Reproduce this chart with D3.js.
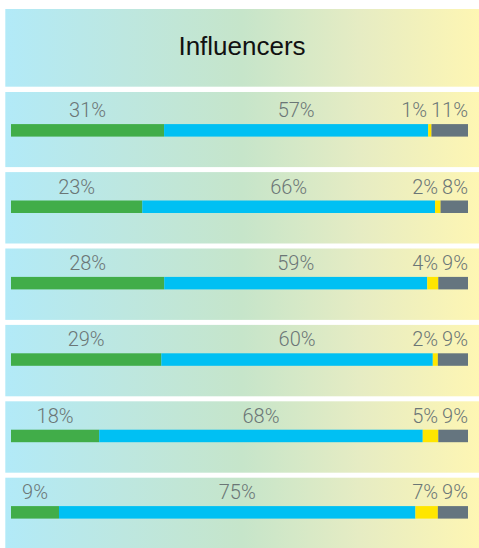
<!DOCTYPE html>
<html>
<head>
<meta charset="utf-8">
<script src="https://cdn.jsdelivr.net/npm/d3@7"></script>
<style>
  body { margin: 0; background: #fff; }
  svg { display: block; }
</style>
</head>
<body>
<div id="chart"></div>
<script>
const title = "Influencers";
const series = ["green", "blue", "yellow", "gray"];
const colors = ["#41ad49", "#00c0f3", "#ffe600", "#65757f"];

// printed percentages, one entry per row
const labelGreen = [31, 23, 28, 29, 18, 9];
const labelBlue = [57, 66, 59, 60, 68, 75];
const labelYellow = [1, 2, 4, 2, 5, 7];
const labelGray = [11, 8, 9, 9, 9, 9];

// bar lengths as drawn (they don't follow the labels exactly)
const barGreen = [33.5, 28.7, 33.5, 32.9, 19.3, 10.5];
const barBlue = [57.8, 64.0, 57.5, 59.4, 70.8, 78.0];
const barYellow = [0.7, 1.2, 2.4, 1.1, 3.4, 4.9];
const barGray = [8.0, 6.0, 6.5, 6.6, 6.5, 6.6];

const width = 479, height = 548;
const rows = d3.range(labelGreen.length);

const table = rows.map(i => ({
  green: barGreen[i], blue: barBlue[i], yellow: barYellow[i], gray: barGray[i],
  labels: [labelGreen[i], labelBlue[i], labelYellow[i], labelGray[i]]
}));

const svg = d3.select("#chart").append("svg")
  .attr("width", width)
  .attr("height", height);

const grad = svg.append("defs").append("linearGradient")
  .attr("id", "bg")
  .attr("gradientUnits", "userSpaceOnUse")
  .attr("x1", 5).attr("x2", width).attr("y1", 0).attr("y2", 0);
grad.selectAll("stop")
  .data([[0, "#b2eaf8"], [0.25, "#bde7e0"], [0.5, "#c6e5ca"], [0.75, "#e6ecc3"], [1, "#fef6b3"]])
  .join("stop")
  .attr("offset", d => d[0])
  .attr("stop-color", d => d[1]);

const x = d3.scaleLinear().domain([0, 1]).range([11, 468]);
const y = d3.scaleBand().domain(rows).range([95.7, 95.7 + rows.length * 76.4]);
const gap = 5;
const barOffset = 28.4, barHeight = 12.5;

// title panel
svg.append("rect")
  .attr("x", 5.3).attr("y", 9)
  .attr("width", width - 5.3).attr("height", 77.7)
  .attr("fill", "url(#bg)");
svg.append("text")
  .attr("x", 242).attr("y", 55)
  .attr("text-anchor", "middle")
  .attr("font-family", "'Liberation Sans', Arial, sans-serif")
  .attr("font-size", 26)
  .attr("fill", "#111")
  .text(title);

// row panels
svg.append("g").selectAll("rect")
  .data(rows)
  .join("rect")
  .attr("x", 5.3)
  .attr("y", i => i === 0 ? 92 : y(i))
  .attr("width", width - 5.3)
  .attr("height", i => i === 0 ? y(i) + y.bandwidth() - gap - 92 : y.bandwidth() - gap)
  .attr("fill", "url(#bg)");

const stacked = d3.stack().keys(series).offset(d3.stackOffsetExpand)(table);

svg.append("g").selectAll("g")
  .data(stacked)
  .join("g")
  .attr("fill", (d, k) => colors[k])
  .selectAll("rect")
  .data(d => d)
  .join("rect")
  .attr("x", d => x(d[0]))
  .attr("y", (d, i) => y(i) + barOffset)
  .attr("width", d => x(d[1]) - x(d[0]))
  .attr("height", barHeight);

// labels
const labelFont = "Roboto, Lato, sans-serif";
rows.forEach(i => {
  const by = y(i) + barOffset - 7;
  const seg = stacked.map(s => s[i]);
  const vals = table[i].labels;
  const g = svg.append("g")
    .attr("font-family", labelFont)
    .attr("font-weight", 300)
    .attr("font-size", 20)
    .attr("fill", "#6b7676");

  [0, 1].forEach(k => {
    g.append("text")
      .attr("x", (x(seg[k][0]) + x(seg[k][1])) / 2)
      .attr("y", by)
      .attr("text-anchor", "middle")
      .text(vals[k] + "%");
  });

  const grayText = g.append("text")
    .attr("x", x(1))
    .attr("y", by)
    .attr("text-anchor", "end")
    .text(vals[3] + "%");
  const grayLeft = x(1) - grayText.node().getComputedTextLength();

  g.append("text")
    .attr("x", grayLeft - 4)
    .attr("y", by)
    .attr("text-anchor", "end")
    .text(vals[2] + "%");
});
</script>
</body>
</html>
